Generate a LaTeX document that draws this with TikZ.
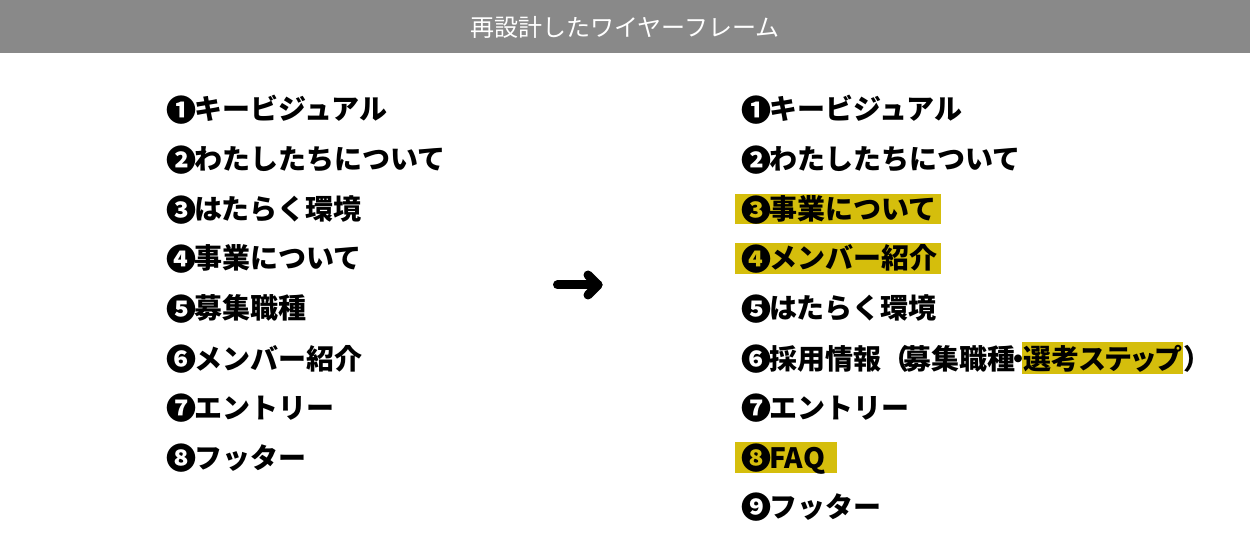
\documentclass[tikz,border=0pt]{standalone}
\usepackage{fontspec}
\setmainfont{Noto Sans CJK JP}
\definecolor{hdr}{HTML}{898989}
\definecolor{hl}{HTML}{D5BE0C}
\newcommand\cnum[1]{\makebox[28pt][l]{\raisebox{-1.5pt}{\fontsize{30}{30}\selectfont #1}}}
\begin{document}
\begin{tikzpicture}[x=1pt,y=-1pt,
  item/.style={anchor=base west, inner sep=0pt, font=\fontsize{28}{28}\selectfont\bfseries},
  hlbox/.style={fill=hl, draw=none, anchor=north west, inner sep=0pt},
  arrowline/.style={line width=9pt, line cap=round, line join=round}]
\useasboundingbox (0,0) rectangle (1250,537);
\fill[white] (0,0) rectangle (1250,537);
\node[fill=hdr, anchor=north west, minimum width=1250pt, minimum height=53pt, inner sep=0pt] (header) at (0,0) {};
\node[text=white, inner sep=0pt, font=\fontsize{24}{24}\selectfont] (title) at (625,27) {再設計したワイヤーフレーム};
% left list
\node[item] (l1) at (166,120) {\cnum{❶}キービジュアル};
\node[item] (l2) at (166,170) {\cnum{❷}わたしたちについて};
\node[item] (l3) at (166,220) {\cnum{❸}はたらく環境};
\node[item] (l4) at (166,269) {\cnum{❹}事業について};
\node[item] (l5) at (166,319) {\cnum{❺}募集職種};
\node[item] (l6) at (166,369) {\cnum{❻}メンバー紹介};
\node[item] (l7) at (166,418) {\cnum{❼}エントリー};
\node[item] (l8) at (166,468) {\cnum{❽}フッター};
% arrow
\coordinate (as) at (557.5,285);
\coordinate (ae) at (598,285);
\coordinate (h1) at (588,275);
\coordinate (h2) at (588,295);
\draw[arrowline] (as) -- (ae);
\draw[arrowline] (h1) -- (ae) -- (h2);
% highlights
\node[hlbox, minimum width=206pt, minimum height=30pt] (hl3) at (735,194) {};
\node[hlbox, minimum width=206pt, minimum height=31pt] (hl4) at (735,243) {};
\node[hlbox, minimum width=102pt, minimum height=31pt] (hl8) at (735,442) {};
% right list
\node[item] (r1) at (741,120) {\cnum{❶}キービジュアル};
\node[item] (r2) at (741,170) {\cnum{❷}わたしたちについて};
\node[item] (r3) at (741,220) {\cnum{❸}事業について};
\node[item] (r4) at (741,269) {\cnum{❹}メンバー紹介};
\node[item] (r5) at (741,319) {\cnum{❺}はたらく環境};
\node[item] (r6a) at (741,369) {\cnum{❻}採用情報（\kern-6pt 募集職種\kern-10.5pt・\kern-11pt};
\node[item, fill=hl, inner xsep=1.5pt, text height=27pt, text depth=5pt] (r6b) at (r6a.base east) {\addfontfeatures{RawFeature=+palt}選考ステップ};
\node[item] (r6c) at (r6b.base east) {）};
\node[item] (r7) at (741,418) {\cnum{❼}エントリー};
\node[item] (r8) at (741,468) {\cnum{❽}FAQ};
\node[item] (r9) at (741,517) {\cnum{❾}フッター};
\end{tikzpicture}
\end{document}
